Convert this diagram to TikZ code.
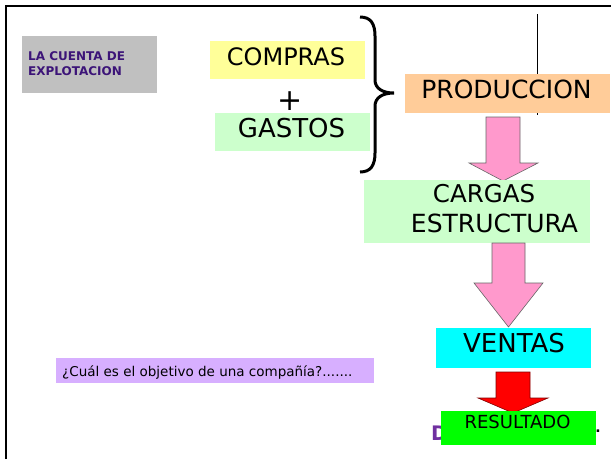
\documentclass[tikz,border=0pt]{standalone}
\usepackage{fontspec}
\setmainfont{DejaVu Sans}
\definecolor{boxgray}{RGB}{192,192,192}
\definecolor{titlepurple}{RGB}{60,20,120}
\definecolor{yellowbox}{RGB}{255,255,153}
\definecolor{greenlight}{RGB}{204,255,204}
\definecolor{peach}{RGB}{255,204,153}
\definecolor{pinkarrow}{RGB}{255,153,204}
\definecolor{cyanbox}{RGB}{0,255,255}
\definecolor{greenbox}{RGB}{0,255,0}
\definecolor{lavender}{RGB}{215,175,255}
\definecolor{dpurple}{RGB}{112,48,160}
\begin{document}
\begin{tikzpicture}[x=1pt,y=-1pt,
  fillbox/.style={draw=none,inner sep=0pt,outer sep=0pt},
  bigtxt/.style={inner sep=0pt,anchor=base,font=\fontsize{25}{30}\selectfont},
  blockarrow/.style={draw=gray!80!black,line width=0.6pt,line join=miter},
]
\useasboundingbox (0,0) rectangle (611,459);
% frame
\draw[line width=2.2pt] (6,459) -- (6,6) -- (611,6);
% title box
\node[fillbox,fill=boxgray,minimum width=135pt,minimum height=57pt,anchor=north west] (title) at (22,36) {};
\node[anchor=north west,inner sep=0pt,align=left,text=titlepurple,font=\bfseries\fontsize{12}{15}\selectfont] (titletxt) at (28,51) {LA CUENTA DE\\EXPLOTACION};
% compras / gastos
\node[fillbox,fill=yellowbox,minimum width=155pt,minimum height=38pt,anchor=north west] (compras) at (210,41) {};
\node[bigtxt,font=\fontsize{24}{28}\selectfont] (comprastxt) at (286,65) {COMPRAS};
\node[inner sep=0pt,font=\fontsize{30}{30}\selectfont] (plus) at (290,101) {+};
\node[fillbox,fill=greenlight,minimum width=155pt,minimum height=38pt,anchor=north west] (gastos) at (215,113) {};
\node[bigtxt,font=\fontsize{26}{30}\selectfont] (gastostxt) at (291.5,137) {GASTOS};
% brace
\draw[line width=3pt] (360,17) .. controls (371,17) and (375,24) .. (375,36) -- (375,80) .. controls (375,88) and (382,93) .. (394,93) .. controls (382,93) and (375,98) .. (375,106) -- (375,153) .. controls (375,165) and (371,172) .. (360,172);
% vertical line
\coordinate (vtop) at (537.5,14);
\coordinate (vbot) at (537.5,115);
\draw[line width=0.9pt] (vtop) -- (vbot);
% produccion
\node[fillbox,fill=peach,minimum width=205pt,minimum height=39pt,anchor=north west] (prod) at (405,74) {};
\node[bigtxt] (prodtxt) at (506.5,98) {PRODUCCION};
% arrow 1
\draw[blockarrow,fill=pinkarrow] (486,117) -- (520,117) -- (520,163) -- (538,163) -- (503,181) -- (469,163) -- (486,163) -- cycle;
% cargas estructura
\node[fillbox,fill=greenlight,minimum width=226pt,minimum height=63pt,anchor=north west] (cargas) at (364,180) {};
\node[bigtxt,font=\fontsize{24.5}{30}\selectfont] (cargastxt) at (484,202) {CARGAS};
\node[bigtxt] (estrtxt) at (494.5,232) {ESTRUCTURA};
% arrow 2
\draw[blockarrow,fill=pinkarrow] (492,243) -- (525,243) -- (525,283) -- (543,283) -- (508.5,327) -- (474,283) -- (492,283) -- cycle;
% ventas
\node[fillbox,fill=cyanbox,minimum width=155pt,minimum height=40pt,anchor=north west] (ventas) at (436,328) {};
\node[bigtxt,font=\fontsize{26}{30}\selectfont] (ventastxt) at (514,352) {VENTAS};
% red arrow
\draw[draw=red!50!black,line width=0.6pt,fill=red] (496,372) -- (530,372) -- (530,398) -- (548,398) -- (513,413) -- (478,398) -- (496,398) -- cycle;
% hidden text behind resultado
\node[inner sep=0pt,anchor=base west,text=dpurple,font=\bfseries\fontsize{20}{24}\selectfont] (dtxt) at (431,440) {D};
\node[inner sep=0pt,font=\bfseries\fontsize{14}{14}\selectfont] (dotr) at (598,431) {.};
% resultado
\node[fillbox,fill=greenbox,minimum width=155pt,minimum height=34pt,anchor=north west] (result) at (441,411) {};
\node[bigtxt,font=\fontsize{18}{22}\selectfont] (resulttxt) at (517.5,428) {RESULTADO};
% question
\node[fillbox,fill=lavender,minimum width=318pt,minimum height=25pt,anchor=north west] (question) at (56,358) {};
\node[inner sep=0pt,anchor=base west,font=\fontsize{13.5}{16}\selectfont] (questiontxt) at (62,376) {¿Cuál es el objetivo de una compañía?.......};
\end{tikzpicture}
\end{document}
